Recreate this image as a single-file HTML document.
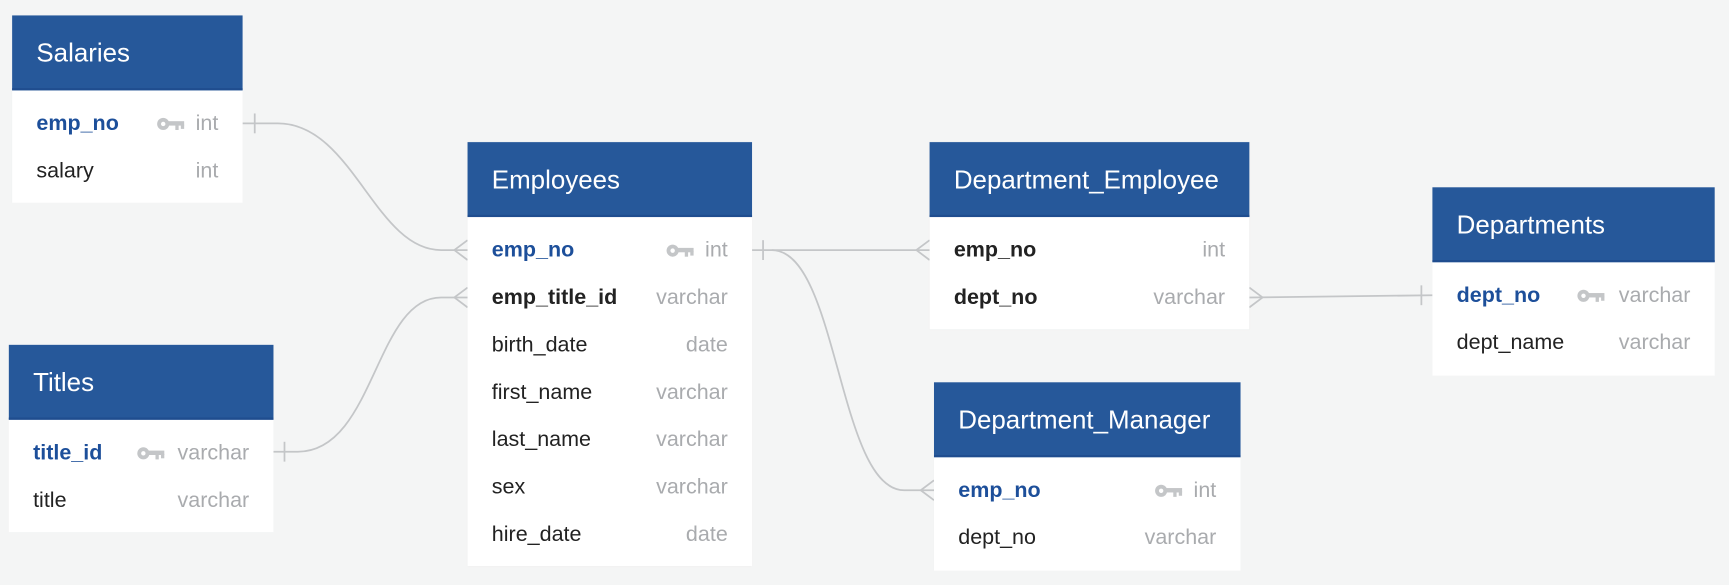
<!DOCTYPE html>
<html><head><meta charset="utf-8"><style>
html,body{margin:0;padding:0;background:#f4f5f5;overflow:hidden;}
#w{position:absolute;left:0;top:0;width:1568px;height:531px;transform-origin:0 0;transform:scale(1.1027,1.1017);font-family:"Liberation Sans",Arial,sans-serif;}
.t{position:absolute;background:#fff;box-shadow:0 0 1px rgba(0,0,0,.08);}
.h{background:#26589a;color:#fff;font-size:23.5px;height:68px;line-height:68px;padding-left:22px;border-bottom:2px solid #1f4d8f;box-sizing:border-box;}
.r{position:relative;height:43px;line-height:45px;font-size:19.5px;color:#222;padding-left:22px;}
.r .ty{position:absolute;right:22px;top:0;color:#a9abae;}
.pk{color:#1d4f9a;font-weight:bold;}
.b{font-weight:bold;color:#222;}
.k{position:absolute;top:16px;width:26px;height:13px;}
svg{position:absolute;left:0;top:0;}
</style></head><body><div id="w">
<svg width="1568" height="531" viewBox="0 0 1568 531" fill="none" stroke="#c4c6c8" stroke-width="1.6">
<path d="M220 112 L252 112 C320 112 340 227 400 227 L424 227"/>
<path d="M231 103 V121"/>
<path d="M412 227 L424 218 M412 227 L424 236"/>
<path d="M248 410 L270 410 C340 410 340 270 400 270 L424 270"/>
<path d="M258 401 V419"/>
<path d="M412 270 L424 261 M412 270 L424 279"/>
<path d="M682 227 L843 227"/>
<path d="M692 218 V236"/>
<path d="M831 227 L843 218 M831 227 L843 236"/>
<path d="M700 227 C760 227 760 445 820 445 L847 445"/>
<path d="M835 445 L847 436 M835 445 L847 454"/>
<path d="M1133 270 L1299 268"/>
<path d="M1145 270 L1133 261 M1145 270 L1133 279"/>
<path d="M1289 259 V277"/>
</svg>

<div class="t" style="left:11px;top:14px;width:209px;height:170px">
<div class="h">Salaries</div>
<div style="height:8px"></div>
<div class="r"><span class="pk">emp_no</span><svg class="k" style="left:131px" viewBox="0 0 26 13"><circle cx="6" cy="6.5" r="5.5" fill="#c4c6c8"/><circle cx="6" cy="6.5" r="2" fill="#fff"/><rect x="10" y="4" width="15" height="4" fill="#c4c6c8"/><rect x="17" y="7" width="3" height="5" fill="#c4c6c8"/><rect x="22" y="7" width="3" height="4" fill="#c4c6c8"/></svg><span class="ty">int</span></div>
<div class="r">salary<span class="ty">int</span></div>
</div>

<div class="t" style="left:8px;top:313px;width:240px;height:170px">
<div class="h">Titles</div>
<div style="height:8px"></div>
<div class="r"><span class="pk">title_id</span><svg class="k" style="left:116px" viewBox="0 0 26 13"><circle cx="6" cy="6.5" r="5.5" fill="#c4c6c8"/><circle cx="6" cy="6.5" r="2" fill="#fff"/><rect x="10" y="4" width="15" height="4" fill="#c4c6c8"/><rect x="17" y="7" width="3" height="5" fill="#c4c6c8"/><rect x="22" y="7" width="3" height="4" fill="#c4c6c8"/></svg><span class="ty">varchar</span></div>
<div class="r">title<span class="ty">varchar</span></div>
</div>

<div class="t" style="left:424px;top:129px;width:258px;height:385px">
<div class="h">Employees</div>
<div style="height:8px"></div>
<div class="r"><span class="pk">emp_no</span><svg class="k" style="left:180px" viewBox="0 0 26 13"><circle cx="6" cy="6.5" r="5.5" fill="#c4c6c8"/><circle cx="6" cy="6.5" r="2" fill="#fff"/><rect x="10" y="4" width="15" height="4" fill="#c4c6c8"/><rect x="17" y="7" width="3" height="5" fill="#c4c6c8"/><rect x="22" y="7" width="3" height="4" fill="#c4c6c8"/></svg><span class="ty">int</span></div>
<div class="r"><span class="b">emp_title_id</span><span class="ty">varchar</span></div>
<div class="r">birth_date<span class="ty">date</span></div>
<div class="r">first_name<span class="ty">varchar</span></div>
<div class="r">last_name<span class="ty">varchar</span></div>
<div class="r">sex<span class="ty">varchar</span></div>
<div class="r">hire_date<span class="ty">date</span></div>
</div>

<div class="t" style="left:843px;top:129px;width:290px;height:170px">
<div class="h">Department_Employee</div>
<div style="height:8px"></div>
<div class="r"><span class="b">emp_no</span><span class="ty">int</span></div>
<div class="r"><span class="b">dept_no</span><span class="ty">varchar</span></div>
</div>

<div class="t" style="left:847px;top:347px;width:278px;height:171px">
<div class="h">Department_Manager</div>
<div style="height:8px"></div>
<div class="r"><span class="pk">emp_no</span><svg class="k" style="left:200px" viewBox="0 0 26 13"><circle cx="6" cy="6.5" r="5.5" fill="#c4c6c8"/><circle cx="6" cy="6.5" r="2" fill="#fff"/><rect x="10" y="4" width="15" height="4" fill="#c4c6c8"/><rect x="17" y="7" width="3" height="5" fill="#c4c6c8"/><rect x="22" y="7" width="3" height="4" fill="#c4c6c8"/></svg><span class="ty">int</span></div>
<div class="r">dept_no<span class="ty">varchar</span></div>
</div>

<div class="t" style="left:1299px;top:170px;width:256px;height:171px">
<div class="h">Departments</div>
<div style="height:8px"></div>
<div class="r"><span class="pk">dept_no</span><svg class="k" style="left:131px" viewBox="0 0 26 13"><circle cx="6" cy="6.5" r="5.5" fill="#c4c6c8"/><circle cx="6" cy="6.5" r="2" fill="#fff"/><rect x="10" y="4" width="15" height="4" fill="#c4c6c8"/><rect x="17" y="7" width="3" height="5" fill="#c4c6c8"/><rect x="22" y="7" width="3" height="4" fill="#c4c6c8"/></svg><span class="ty">varchar</span></div>
<div class="r">dept_name<span class="ty">varchar</span></div>
</div>
</div></body></html>
